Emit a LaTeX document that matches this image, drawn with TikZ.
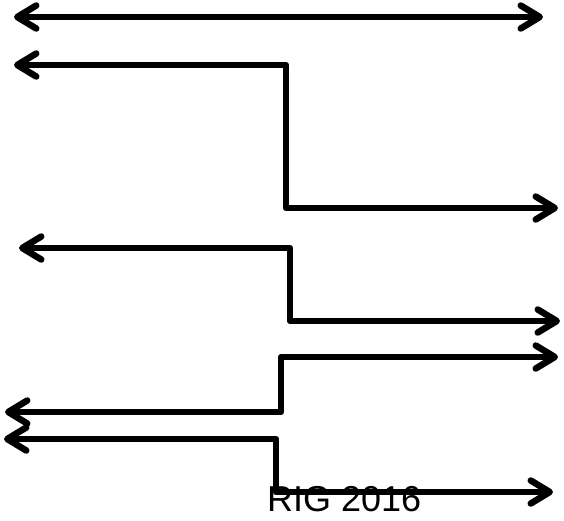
\documentclass[tikz,border=0pt]{standalone}
\usepackage{fontspec}
\setmainfont{Liberation Sans}
\usetikzlibrary{arrows.meta}
\begin{document}
\begin{tikzpicture}[x=1pt,y=-1pt,
  conn/.style={line width=6.5pt,line join=round,
    {Straight Barb[length=19pt 0,width=23pt 0,round]}-{Straight Barb[length=19pt 0,width=23pt 0,round]}},
  lbl/.style={inner sep=0pt,anchor=base west,font=\fontsize{36}{40}\selectfont}]
\useasboundingbox (0,0) rectangle (564,520);
\node[lbl] (rig) at (267,511) {RIG 2016};
% line 1
\coordinate (a1) at (14,17);
\coordinate (b1) at (543,17);
\draw[conn] (a1) -- (b1);
% line 2
\coordinate (a2) at (14,65);
\coordinate (c2) at (286,65);
\coordinate (d2) at (286,208);
\coordinate (b2) at (558,208);
\draw[conn] (a2) -- (c2) -- (d2) -- (b2);
% line 3
\coordinate (a3) at (19,248);
\coordinate (c3) at (290,248);
\coordinate (d3) at (290,321);
\coordinate (b3) at (560,321);
\draw[conn] (a3) -- (c3) -- (d3) -- (b3);
% line 4
\coordinate (a4) at (5,412);
\coordinate (c4) at (281,412);
\coordinate (d4) at (281,357);
\coordinate (b4) at (558,357);
\draw[conn] (a4) -- (c4) -- (d4) -- (b4);
% line 5
\coordinate (a5) at (4,439);
\coordinate (c5) at (276,439);
\coordinate (d5) at (276,492);
\coordinate (b5) at (553,492);
\draw[conn] (a5) -- (c5) -- (d5) -- (b5);
\end{tikzpicture}
\end{document}
